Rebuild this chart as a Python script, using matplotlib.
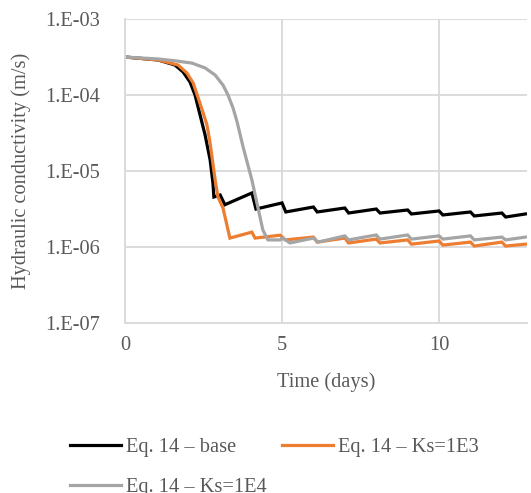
import numpy as np
import matplotlib
matplotlib.use("Agg")
import matplotlib.pyplot as plt
from matplotlib.ticker import FixedLocator, FuncFormatter, NullLocator

# data (time in days, K in m/s)
t_base = [0, 1.05, 1.59, 1.85, 2.07, 2.23, 2.39, 2.55, 2.71, 2.80, 2.83, 3.03, 3.18,
          4.04, 4.17, 5.0, 5.12, 6.0, 6.12, 7.0, 7.12, 8.0, 8.12, 9.0, 9.12,
          10.0, 10.12, 11.0, 11.12, 12.0, 12.12, 12.75]
k_base = [3.16e-4, 2.89e-4, 2.48e-4, 2.01e-4, 1.48e-4, 1.0e-4, 5.46e-5, 2.98e-5,
          1.40e-5, 6.95e-6, 4.55e-6, 4.83e-6, 3.60e-6, 5.14e-6, 3.16e-6, 3.80e-6,
          2.89e-6, 3.36e-6, 2.89e-6, 3.26e-6, 2.80e-6, 3.16e-6, 2.80e-6, 3.07e-6,
          2.72e-6, 2.98e-6, 2.64e-6, 2.89e-6, 2.56e-6, 2.80e-6, 2.48e-6, 2.72e-6]

t_ks3 = [0, 1.05, 1.69, 1.97, 2.17, 2.32, 2.48, 2.61, 2.71, 2.87, 2.96, 3.12, 3.34,
         4.04, 4.14, 4.94, 5.10, 6.0, 6.12, 7.0, 7.12, 8.0, 8.12, 9.0, 9.12,
         10.0, 10.12, 11.0, 11.12, 12.0, 12.12, 12.75]
k_ks3 = [3.16e-4, 2.89e-4, 2.48e-4, 1.95e-4, 1.44e-4, 9.42e-5, 5.97e-5, 4.03e-5,
         2.33e-5, 7.62e-6, 4.55e-6, 3.26e-6, 1.31e-6, 1.57e-6, 1.31e-6, 1.43e-6,
         1.24e-6, 1.35e-6, 1.16e-6, 1.31e-6, 1.13e-6, 1.27e-6, 1.13e-6, 1.24e-6,
         1.09e-6, 1.20e-6, 1.06e-6, 1.16e-6, 1.03e-6, 1.16e-6, 1.03e-6, 1.09e-6]

t_ks4 = [0, 1.05, 1.59, 2.13, 2.55, 2.87, 3.12, 3.28, 3.44, 3.57, 3.76, 4.04, 4.20,
         4.39, 4.55, 4.94, 5.03, 5.25, 6.0, 6.15, 7.0, 7.12, 8.0, 8.12, 9.0, 9.12,
         10.0, 10.12, 11.0, 11.12, 12.0, 12.12, 12.75]
k_ks4 = [3.16e-4, 2.98e-4, 2.82e-4, 2.63e-4, 2.27e-4, 1.83e-4, 1.35e-4, 1.0e-4,
         6.74e-5, 4.42e-5, 2.07e-5, 7.62e-6, 3.80e-6, 1.67e-6, 1.24e-6, 1.24e-6,
         1.31e-6, 1.13e-6, 1.31e-6, 1.16e-6, 1.40e-6, 1.24e-6, 1.44e-6, 1.27e-6,
         1.44e-6, 1.27e-6, 1.40e-6, 1.27e-6, 1.40e-6, 1.24e-6, 1.35e-6, 1.24e-6,
         1.35e-6]

labels = ["Eq. 14 \u2013 base", "Eq. 14 \u2013 Ks=1E3", "Eq. 14 \u2013 Ks=1E4"]
colors = ["#000000", "#ED7D31", "#A5A5A5"]

plt.rcParams['font.family'] = ['Liberation Serif', 'DejaVu Serif']
fs = 14.7
txt = "#595959"
grid = "#D9D9D9"

fig = plt.figure(figsize=(5.31, 4.93), dpi=100)
ax = fig.add_axes([125/531, 1-323/493, (527-125)/531, (323-19)/493])

lines = []
for t, k, lab, c in zip([t_base, t_ks3, t_ks4], [k_base, k_ks3, k_ks4], labels, colors):
    ln, = ax.plot(t, k, color=c, lw=2.3, label=lab, solid_joinstyle='miter')
    lines.append(ln)

ax.set_yscale('log')
ax.set_ylim(1e-7, 1e-3)
ax.set_xlim(0, 12.8)
ax.yaxis.set_major_locator(FixedLocator([1e-7, 1e-6, 1e-5, 1e-4, 1e-3]))
ax.yaxis.set_minor_locator(NullLocator())
ax.yaxis.set_major_formatter(FuncFormatter(lambda v, p: "1.E-%02d" % round(-np.log10(v))))
ax.xaxis.set_major_locator(FixedLocator([0, 5, 10]))

ax.grid(True, color=grid, lw=1.3)
ax.set_axisbelow(True)
for s in ['top', 'right']:
    ax.spines[s].set_visible(False)
for s in ['left', 'bottom']:
    ax.spines[s].set_color(grid)
    ax.spines[s].set_linewidth(1.3)
ax.tick_params(length=0, labelsize=fs, labelcolor=txt)
ax.tick_params(axis='y', pad=18)
ax.tick_params(axis='x', pad=9)

ax.set_xlabel("Time (days)", fontsize=fs, color=txt, labelpad=12.5)
ax.set_ylabel("Hydraulic conductivity (m/s)", fontsize=fs, color=txt, labelpad=10)

# row-wise legend: base, Ks=1E3 on top row, Ks=1E4 below
order = [0, 2, 1]
fig.legend([lines[i] for i in order], [labels[i] for i in order],
           loc='upper left', bbox_to_anchor=(70/531, 1-438/493), ncol=2,
           frameon=False, fontsize=fs, labelcolor=txt, handlelength=2.5,
           handletextpad=0.25, columnspacing=0.75, labelspacing=1.0,
           borderaxespad=0, borderpad=0)

fig.savefig("out.png", dpi=100)
